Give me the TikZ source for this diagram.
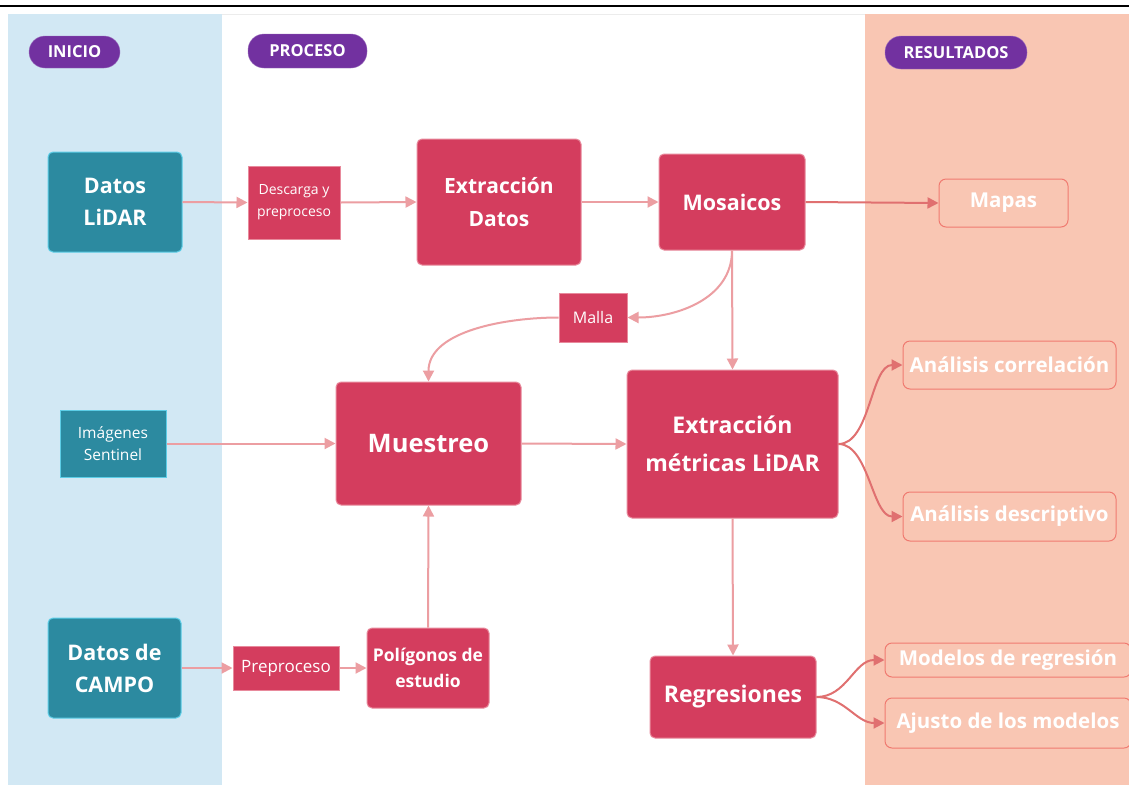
\documentclass[tikz,border=0pt]{standalone}
\usepackage{fontspec}
\setmainfont{Open Sans}
\usetikzlibrary{arrows.meta}
\definecolor{crim}{HTML}{D43D5E}
\definecolor{crimB}{HTML}{E88A9C}
\definecolor{teal}{HTML}{2C8AA0}
\definecolor{tealB}{HTML}{5CCDE6}
\definecolor{purp}{HTML}{7231A0}
\definecolor{bluebg}{HTML}{D2E8F4}
\definecolor{peach}{HTML}{F9C6B3}
\definecolor{resB}{HTML}{F07A70}
\definecolor{arrC}{HTML}{EC9EA2}
\definecolor{arrD}{HTML}{E07070}
\newcommand{\fs}[2]{\fontsize{#1}{#2}\selectfont}
\tikzset{
  proc/.style={draw=crimB, line width=1pt, fill=crim, rounded corners=5pt, text=white, align=center, inner sep=0pt},
  sqbox/.style={draw=crimB, line width=1pt, fill=crim, text=white, align=center, inner sep=0pt},
  inbox/.style={draw=tealB, line width=1pt, fill=teal, text=white, align=center, inner sep=0pt},
  resbox/.style={draw=resB, line width=1pt, fill=peach, rounded corners=7pt, text=white, align=center, inner sep=0pt, font=\fs{20.5}{24}\bfseries},
  pill/.style={fill=purp, draw=purp!70, rounded corners=16pt, text=white, inner sep=0pt, font=\fs{16.5}{19}\bfseries},
  arr/.style={draw=arrC, line width=2pt, -{Triangle[length=11pt,width=11pt]}},
  arrd/.style={draw=arrD, line width=2pt, -{Triangle[length=11pt,width=11pt]}},
}
\begin{document}
\begin{tikzpicture}[x=1pt,y=-1pt]
\useasboundingbox (0,0) rectangle (1129,785);
\fill[white] (0,0) rectangle (1129,785);
% panels
\fill[bluebg] (8,14) rectangle (222,785);
\fill[peach] (865,14) rectangle (1129,785);
\draw[gray!15, line width=1pt] (222,14.5) -- (865,14.5);
\draw[black, line width=1.6pt] (0,6) -- (1129,6);
% pills
\node[pill, minimum width=91pt, minimum height=32pt] (p1) at (74.5,52) {INICIO};
\node[pill, minimum width=119pt, minimum height=34pt] (p2) at (307.5,51) {PROCESO};
\node[pill, minimum width=142pt, minimum height=33pt] (p3) at (956,52.5) {RESULTADOS};
% inputs
\node[inbox, rounded corners=5pt, minimum width=134pt, minimum height=100pt, font=\fs{21.5}{32}\bfseries] (lidar) at (115,202) {Datos\\LiDAR};
\node[inbox, minimum width=106pt, minimum height=67pt, font=\fs{15.5}{22}] (sent) at (113,443.5) {Imágenes\\Sentinel};
\node[inbox, rounded corners=5pt, minimum width=133pt, minimum height=100pt, font=\fs{21.5}{32}\bfseries] (campo) at (114.5,668) {Datos de\\CAMPO};
% process
\node[sqbox, minimum width=92pt, minimum height=73pt, font=\fs{14}{22}] (desc) at (294,202.5) {Descarga y\\preproceso};
\node[proc, minimum width=164pt, minimum height=126pt, font=\fs{21}{33}\bfseries] (extd) at (499,202) {Extracción\\Datos};
\node[proc, minimum width=146pt, minimum height=96pt, font=\fs{21.5}{24}\bfseries] (mos) at (732,202) {Mosaicos};
\node[sqbox, minimum width=68pt, minimum height=49pt, font=\fs{16}{18}] (malla) at (593,317.5) {Malla};
\node[proc, minimum width=185pt, minimum height=123pt, font=\fs{25.5}{30}\bfseries] (mue) at (428.5,443.5) {Muestreo};
\node[proc, minimum width=211pt, minimum height=148pt, font=\fs{23}{38}\bfseries] (em) at (732.5,444) {Extracción\\métricas LiDAR};
\node[sqbox, minimum width=106pt, minimum height=44pt, font=\fs{17}{20}] (prep) at (286,668) {Preproceso};
\node[proc, minimum width=122pt, minimum height=80pt, font=\fs{17.5}{26}\bfseries] (pol) at (428,668) {Polígonos de\\estudio};
\node[proc, minimum width=166pt, minimum height=82pt, font=\fs{23}{25}\bfseries] (reg) at (733,697) {Regresiones};
% results
\node[resbox, minimum width=129pt, minimum height=48pt] (mapas) at (1003.5,203) {Mapas};
\node[resbox, minimum width=213pt, minimum height=48pt] (corr) at (1009.5,365) {Análisis correlación};
\node[resbox, minimum width=213pt, minimum height=49pt] (descr) at (1009.5,516.5) {Análisis descriptivo};
\node[resbox, minimum width=246pt, minimum height=34pt] (mod) at (1008,660) {Modelos de regresión};
\node[resbox, minimum width=246pt, minimum height=50pt] (aju) at (1008,723) {Ajusto de los modelos};
% arrows
\draw[arr] (lidar.east) -- (desc.west);
\draw[arr] (desc.east) -- (extd.west);
\draw[arr] (extd.east) -- (mos.west);
\draw[arrd] (mos.east) -- (mapas.west);
\draw[arr] (mos.south) to[out=-90,in=0,looseness=1] (malla.east);
\draw[arr] (mos.south) -- (em.north);
\draw[arr] (malla.west) to[out=180,in=90,looseness=0.9] (mue.north);
\draw[arr] (sent.east) -- (mue.west);
\draw[arr] (mue.east) -- (em.west);
\draw[arrd] (em.east) to[out=0,in=180,looseness=0.8] (corr.west);
\draw[arrd] (em.east) to[out=0,in=180,looseness=0.8] (descr.west);
\draw[arr] (em.south) -- (reg.north);
\draw[arrd] (reg.east) to[out=0,in=180] (mod.west);
\draw[arrd] (reg.east) to[out=0,in=180] (aju.west);
\draw[arr] (campo.east) -- (prep.west);
\draw[arr] (prep.east) -- (pol.west);
\draw[arr] (pol.north) -- (mue.south);
\end{tikzpicture}
\end{document}
